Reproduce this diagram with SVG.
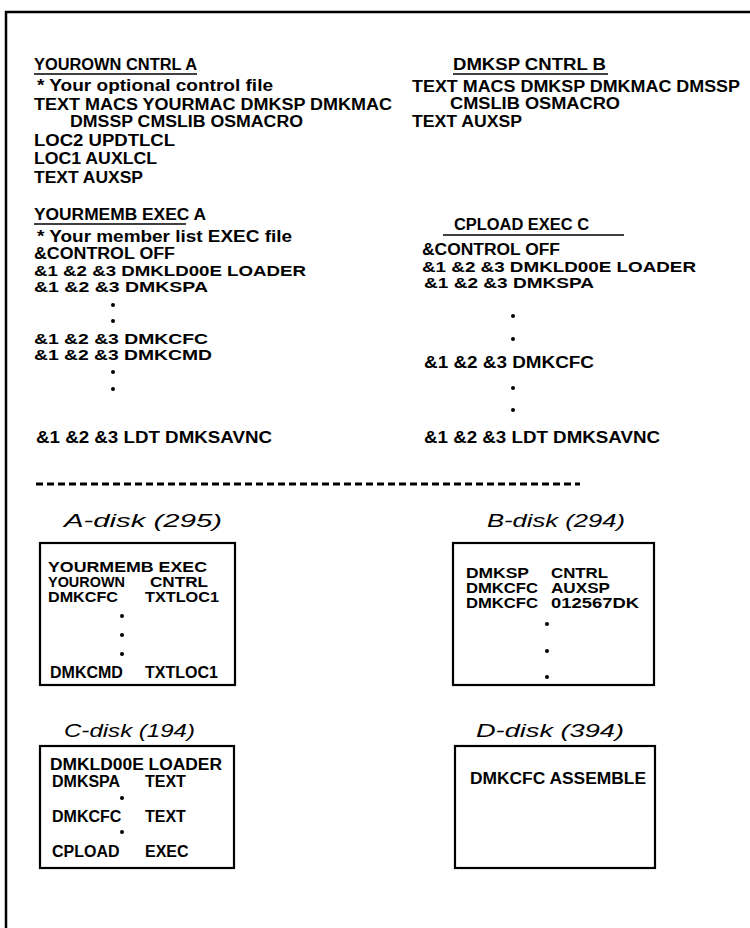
<svg xmlns="http://www.w3.org/2000/svg" width="750" height="928" viewBox="0 0 750 928">
<style>
.t{font-family:"Liberation Sans",Arial,sans-serif;font-weight:bold;font-size:16px;fill:#000}
.s{font-size:14.5px}
.l{font-family:"Liberation Sans",Arial,sans-serif;font-style:italic;font-size:18px;fill:#000}
.u{stroke:#000;stroke-width:1.6}
.box{fill:none;stroke:#000;stroke-width:2.2}
.d{fill:#000}
</style>
<rect width="750" height="928" fill="#fff"/>
<path d="M6 928V12H750" fill="none" stroke="#000" stroke-width="2.5"/>
<g id="yourown-cntrl">
<text class="t" x="34" y="70" textLength="163" lengthAdjust="spacingAndGlyphs">YOUROWN CNTRL A</text>
<line class="u" x1="34" y1="74" x2="197" y2="74"/>
<text class="t" x="37" y="91" textLength="236" lengthAdjust="spacingAndGlyphs">* Your optional control file</text>
<text class="t" x="34" y="110" textLength="358" lengthAdjust="spacingAndGlyphs">TEXT MACS YOURMAC DMKSP DMKMAC</text>
<text class="t" x="70" y="127" textLength="233" lengthAdjust="spacingAndGlyphs">DMSSP CMSLIB OSMACRO</text>
<text class="t" x="34" y="146" textLength="141" lengthAdjust="spacingAndGlyphs">LOC2 UPDTLCL</text>
<text class="t" x="34" y="164" textLength="123" lengthAdjust="spacingAndGlyphs">LOC1 AUXLCL</text>
<text class="t" x="34" y="183" textLength="109" lengthAdjust="spacingAndGlyphs">TEXT AUXSP</text>
</g>
<g id="dmksp-cntrl">
<text class="t" x="453" y="70" textLength="153" lengthAdjust="spacingAndGlyphs">DMKSP CNTRL B</text>
<line class="u" x1="453" y1="74" x2="608" y2="74"/>
<text class="t" x="412" y="92" textLength="328" lengthAdjust="spacingAndGlyphs">TEXT MACS DMKSP DMKMAC DMSSP</text>
<text class="t" x="450" y="109" textLength="170" lengthAdjust="spacingAndGlyphs">CMSLIB OSMACRO</text>
<text class="t" x="412" y="127" textLength="110" lengthAdjust="spacingAndGlyphs">TEXT AUXSP</text>
</g>
<g id="yourmemb-exec">
<text class="t" x="34" y="220" textLength="172" lengthAdjust="spacingAndGlyphs">YOURMEMB EXEC A</text>
<line class="u" x1="34" y1="224" x2="186" y2="224"/>
<text class="t" x="37" y="242" textLength="255" lengthAdjust="spacingAndGlyphs">* Your member list EXEC file</text>
<text class="t" x="34" y="259" textLength="141" lengthAdjust="spacingAndGlyphs">&amp;CONTROL OFF</text>
<text class="t s" x="34" y="276" textLength="272" lengthAdjust="spacingAndGlyphs">&amp;1 &amp;2 &amp;3 DMKLD00E LOADER</text>
<text class="t s" x="34" y="292" textLength="174" lengthAdjust="spacingAndGlyphs">&amp;1 &amp;2 &amp;3 DMKSPA</text>
<circle class="d" cx="113" cy="305" r="2"/>
<circle class="d" cx="113" cy="321" r="2"/>
<text class="t s" x="34" y="344" textLength="174" lengthAdjust="spacingAndGlyphs">&amp;1 &amp;2 &amp;3 DMKCFC</text>
<text class="t s" x="34" y="360" textLength="178" lengthAdjust="spacingAndGlyphs">&amp;1 &amp;2 &amp;3 DMKCMD</text>
<circle class="d" cx="113" cy="372" r="2"/>
<circle class="d" cx="113" cy="389" r="2"/>
<text class="t" x="36" y="443" textLength="236" lengthAdjust="spacingAndGlyphs">&amp;1 &amp;2 &amp;3 LDT DMKSAVNC</text>
</g>
<g id="cpload-exec">
<text class="t" x="454" y="230" textLength="135" lengthAdjust="spacingAndGlyphs">CPLOAD EXEC C</text>
<line class="u" x1="443" y1="235" x2="624" y2="235"/>
<text class="t" x="422" y="255" textLength="138" lengthAdjust="spacingAndGlyphs">&amp;CONTROL OFF</text>
<text class="t s" x="422" y="272" textLength="274" lengthAdjust="spacingAndGlyphs">&amp;1 &amp;2 &amp;3 DMKLD00E LOADER</text>
<text class="t s" x="424" y="288" textLength="170" lengthAdjust="spacingAndGlyphs">&amp;1 &amp;2 &amp;3 DMKSPA</text>
<circle class="d" cx="513" cy="316" r="2"/>
<circle class="d" cx="513" cy="339" r="2"/>
<text class="t" x="424" y="368" textLength="170" lengthAdjust="spacingAndGlyphs">&amp;1 &amp;2 &amp;3 DMKCFC</text>
<circle class="d" cx="513" cy="388" r="2"/>
<circle class="d" cx="513" cy="410" r="2"/>
<text class="t" x="424" y="443" textLength="236" lengthAdjust="spacingAndGlyphs">&amp;1 &amp;2 &amp;3 LDT DMKSAVNC</text>
</g>
<line x1="36" y1="484" x2="580" y2="484" stroke="#000" stroke-width="3" stroke-dasharray="7 4"/>
<g id="a-disk">
<text class="l" x="64" y="527" textLength="158" lengthAdjust="spacingAndGlyphs">A-disk (295)</text>
<rect class="box" x="40" y="543" width="195" height="142"/>
<text class="t s" x="48" y="572" textLength="159" lengthAdjust="spacingAndGlyphs">YOURMEMB EXEC</text>
<text class="t s" x="48" y="587" textLength="77" lengthAdjust="spacingAndGlyphs">YOUROWN</text>
<text class="t s" x="150" y="587" textLength="58" lengthAdjust="spacingAndGlyphs">CNTRL</text>
<text class="t s" x="48" y="602" textLength="70" lengthAdjust="spacingAndGlyphs">DMKCFC</text>
<text class="t s" x="145" y="602" textLength="74" lengthAdjust="spacingAndGlyphs">TXTLOC1</text>
<circle class="d" cx="122" cy="616" r="2"/>
<circle class="d" cx="122" cy="635" r="2"/>
<circle class="d" cx="122" cy="654" r="2"/>
<text class="t" x="50" y="678">DMKCMD</text>
<text class="t" x="145" y="678">TXTLOC1</text>
</g>
<g id="b-disk">
<text class="l" x="487" y="527" textLength="138" lengthAdjust="spacingAndGlyphs">B-disk (294)</text>
<rect class="box" x="453" y="543" width="201" height="142"/>
<text class="t s" x="466" y="578" textLength="63" lengthAdjust="spacingAndGlyphs">DMKSP</text>
<text class="t s" x="551" y="578" textLength="57" lengthAdjust="spacingAndGlyphs">CNTRL</text>
<text class="t s" x="466" y="593" textLength="72" lengthAdjust="spacingAndGlyphs">DMKCFC</text>
<text class="t s" x="551" y="593" textLength="59" lengthAdjust="spacingAndGlyphs">AUXSP</text>
<text class="t s" x="466" y="608" textLength="72" lengthAdjust="spacingAndGlyphs">DMKCFC</text>
<text class="t s" x="551" y="608" textLength="88" lengthAdjust="spacingAndGlyphs">012567DK</text>
<circle class="d" cx="547" cy="624" r="2"/>
<circle class="d" cx="547" cy="651" r="2"/>
<circle class="d" cx="547" cy="677" r="2"/>
</g>
<g id="c-disk">
<text class="l" x="64" y="737" textLength="131" lengthAdjust="spacingAndGlyphs">C-disk (194)</text>
<rect class="box" x="40" y="746" width="194" height="122"/>
<text class="t" x="50" y="770" textLength="172" lengthAdjust="spacingAndGlyphs">DMKLD00E LOADER</text>
<text class="t" x="52" y="787">DMKSPA</text>
<text class="t" x="145" y="787">TEXT</text>
<circle class="d" cx="122" cy="798" r="2"/>
<text class="t" x="52" y="822">DMKCFC</text>
<text class="t" x="145" y="822">TEXT</text>
<circle class="d" cx="122" cy="832" r="2"/>
<text class="t" x="52" y="857">CPLOAD</text>
<text class="t" x="145" y="857">EXEC</text>
</g>
<g id="d-disk">
<text class="l" x="476" y="737" textLength="148" lengthAdjust="spacingAndGlyphs">D-disk (394)</text>
<rect class="box" x="455" y="746" width="200" height="122"/>
<text class="t" x="470" y="784" textLength="176" lengthAdjust="spacingAndGlyphs">DMKCFC ASSEMBLE</text>
</g>
</svg>
